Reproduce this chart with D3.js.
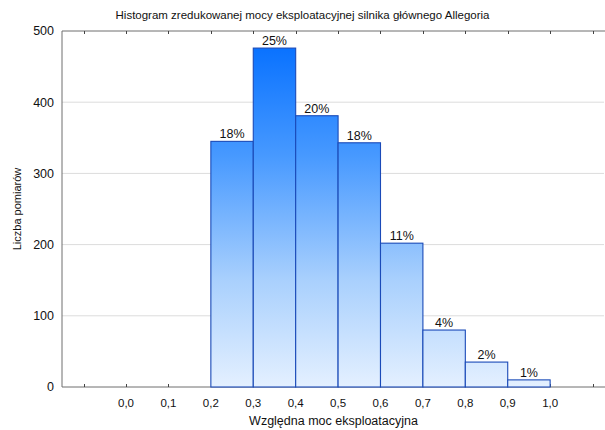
<!DOCTYPE html>
<html>
<head>
<meta charset="utf-8">
<script src="https://cdn.jsdelivr.net/npm/d3@7"></script>
<style>
  body { margin: 0; background: #fff; }
  svg { font-family: "Liberation Sans", Arial, sans-serif; }
</style>
</head>
<body>
<div id="chart"></div>
<script>
// histogram bins (lower edges) and counts
const binStarts = [-0.1, 0.0, 0.1, 0.2, 0.3, 0.4, 0.5, 0.6, 0.7, 0.8, 0.9, 1.0];
const counts = [0, 0, 0, 345, 476, 381, 343, 202, 80, 35, 10, 0];
const xTickValues = [0.0, 0.1, 0.2, 0.3, 0.4, 0.5, 0.6, 0.7, 0.8, 0.9, 1.0];
const yTickValues = [0, 100, 200, 300, 400, 500];
const binWidth = 0.1;

const width = 605, height = 430;
const margin = { top: 31, right: 1, bottom: 43, left: 62 };

const svg = d3.select("#chart").append("svg")
    .attr("width", width)
    .attr("height", height);

const x = d3.scaleLinear()
    .domain([-0.151, 1.127])
    .range([margin.left, width - margin.right]);

const y = d3.scaleLinear()
    .domain([0, 500])
    .range([height - margin.bottom, margin.top]);

// gradient shared by all bars (light at bottom, strong blue at top)
const grad = svg.append("defs").append("linearGradient")
    .attr("id", "barGrad")
    .attr("gradientUnits", "userSpaceOnUse")
    .attr("x1", 0).attr("x2", 0)
    .attr("y1", y(500)).attr("y2", y(0));
grad.append("stop").attr("offset", "0%").attr("stop-color", "#006cff");
grad.append("stop").attr("offset", "35%").attr("stop-color", "#4799ff");
grad.append("stop").attr("offset", "70%").attr("stop-color", "#a9d0fd");
grad.append("stop").attr("offset", "100%").attr("stop-color", "#e4f0ff");

// horizontal grid lines
svg.append("g")
    .selectAll("line")
    .data(yTickValues.filter(d => d > 0 && d < 500))
    .join("line")
    .attr("x1", margin.left)
    .attr("x2", width - margin.right)
    .attr("y1", d => y(d))
    .attr("y2", d => y(d))
    .attr("stroke", "#dcdcdc")
    .attr("stroke-width", 1);

// axis frame: left, top, bottom
const axisColor = "#6e6e6e";
svg.append("line")
    .attr("x1", margin.left).attr("x2", margin.left)
    .attr("y1", y(500)).attr("y2", y(0))
    .attr("stroke", axisColor);
svg.append("line")
    .attr("x1", margin.left).attr("x2", width)
    .attr("y1", y(500)).attr("y2", y(500))
    .attr("stroke", axisColor);
svg.append("line")
    .attr("x1", margin.left).attr("x2", width)
    .attr("y1", y(0)).attr("y2", y(0))
    .attr("stroke", axisColor);

// small inward ticks on top and bottom lines
const tickPos = [-0.1].concat(xTickValues, [1.1]);
svg.append("g")
    .selectAll("line")
    .data(tickPos)
    .join("line")
    .attr("x1", d => Math.round(x(d)) + 0.5)
    .attr("x2", d => Math.round(x(d)) + 0.5)
    .attr("y1", y(500))
    .attr("y2", y(500) + 3)
    .attr("stroke", "#444");
svg.append("g")
    .selectAll("line")
    .data(tickPos)
    .join("line")
    .attr("x1", d => Math.round(x(d)) + 0.5)
    .attr("x2", d => Math.round(x(d)) + 0.5)
    .attr("y1", y(0))
    .attr("y2", y(0) - 3)
    .attr("stroke", "#444");

// bars
const data = binStarts.map((b, i) => ({ start: b, count: counts[i] }));
const total = d3.sum(counts);

svg.append("g")
    .selectAll("rect")
    .data(data)
    .join("rect")
    .attr("x", d => x(d.start))
    .attr("y", d => y(d.count))
    .attr("width", d => x(d.start + binWidth) - x(d.start))
    .attr("height", d => y(0) - y(d.count))
    .attr("fill", "url(#barGrad)")
    .attr("stroke", "#1a4ab8")
    .attr("stroke-width", 1.1);

// percentage labels
svg.append("g")
    .selectAll("text")
    .data(data.filter(d => d.count > 0))
    .join("text")
    .attr("x", d => x(d.start + binWidth / 2))
    .attr("y", d => y(d.count) - 3)
    .attr("text-anchor", "middle")
    .style("font-size", "12.5px")
    .attr("fill", "#111")
    .text(d => Math.round(d.count / total * 100) + "%");

// y tick labels
svg.append("g")
    .selectAll("text")
    .data(yTickValues)
    .join("text")
    .attr("x", margin.left - 8)
    .attr("y", d => y(d))
    .attr("dy", "0.35em")
    .attr("text-anchor", "end")
    .style("font-size", "12.5px")
    .attr("fill", "#111")
    .text(d => d);

// x tick labels
svg.append("g")
    .selectAll("text")
    .data(xTickValues)
    .join("text")
    .attr("x", d => x(d))
    .attr("y", y(0) + 20)
    .attr("text-anchor", "middle")
    .style("font-size", "11.5px")
    .attr("fill", "#111")
    .text(d => d3.format(".1f")(d).replace(".", ","));

// title and axis labels
svg.append("text")
    .attr("x", width / 2)
    .attr("y", 19)
    .attr("text-anchor", "middle")
    .style("font-size", "11.5px")
    .attr("fill", "#111")
    .text("Histogram zredukowanej mocy eksploatacyjnej silnika głównego Allegoria");

svg.append("text")
    .attr("x", (margin.left + width) / 2)
    .attr("y", 425)
    .attr("text-anchor", "middle")
    .style("font-size", "12.5px")
    .attr("fill", "#111")
    .text("Względna moc eksploatacyjna");

svg.append("text")
    .attr("transform", `translate(21, ${(y(0) + y(500)) / 2}) rotate(-90)`)
    .attr("text-anchor", "middle")
    .style("font-size", "11px")
    .attr("fill", "#111")
    .text("Liczba pomiarów");
</script>
</body>
</html>
